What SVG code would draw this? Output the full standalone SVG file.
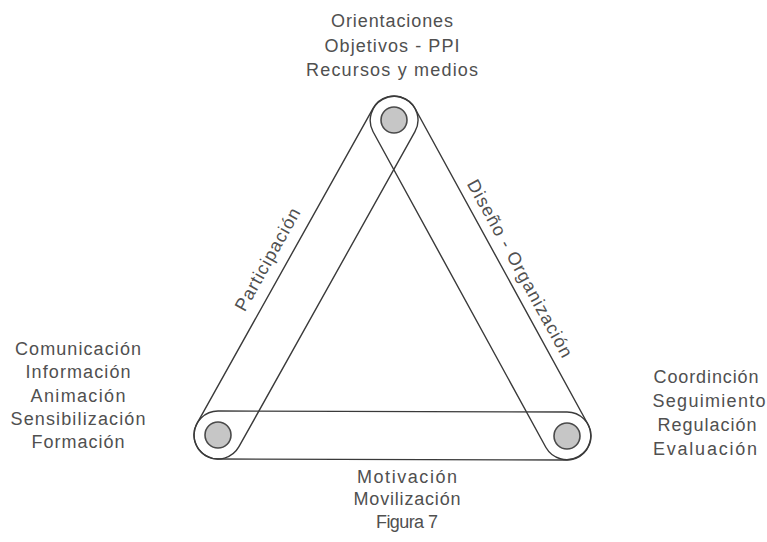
<svg xmlns="http://www.w3.org/2000/svg" width="767" height="542" viewBox="0 0 767 542">
  <defs>
    <style>
      .loop { fill: none; stroke: #3a3a3a; stroke-width: 1.4; stroke-linejoin: round; }
      .dot { fill: #c6c6c6; stroke: #4a4a4a; stroke-width: 1.6; }
      .lbl { font-family: "Liberation Sans", Arial, sans-serif; font-size: 18px; fill: #505050; text-anchor: middle; }
    </style>
  </defs>
  <rect width="767" height="542" fill="#ffffff"/>

  <g id="connectors">
    <path id="loop-participacion" class="loop" d="M414.95,131.71 L238.95,446.71 A24,24 0 0 1 197.05,423.29 L373.05,108.29 A24,24 0 0 1 414.95,131.71 Z"/>
    <path id="loop-diseno" class="loop" d="M415.05,108.48 L588.05,424.48 A24,24 0 0 1 545.95,447.52 L372.95,131.52 A24,24 0 0 1 415.05,108.48 Z"/>
    <path id="loop-motivacion" class="loop" d="M218.07,411 L567.07,412 A24,24 0 0 1 566.93,460 L217.93,459 A24,24 0 0 1 218.07,411 Z"/>
    <text class="lbl" transform="translate(272.9,262.4) rotate(-60.8)" textLength="115" lengthAdjust="spacing">Participación</text>
    <text class="lbl" transform="translate(514.6,271.4) rotate(61.3)" textLength="200" lengthAdjust="spacing">Diseño - Organización</text>
    <text class="lbl" x="407" y="483" textLength="100" lengthAdjust="spacing">Motivación</text>
    <text class="lbl" x="407" y="505" textLength="107" lengthAdjust="spacing">Movilización</text>
  </g>

  <g id="node-top">
    <circle class="dot" cx="394" cy="120" r="13"/>
    <text class="lbl" x="392" y="27" textLength="122" lengthAdjust="spacing">Orientaciones</text>
    <text class="lbl" x="392" y="52" textLength="135" lengthAdjust="spacing">Objetivos - PPI</text>
    <text class="lbl" x="392" y="76" textLength="172" lengthAdjust="spacing">Recursos y medios</text>
  </g>

  <g id="node-left">
    <circle class="dot" cx="218" cy="435" r="13"/>
    <text class="lbl" x="78" y="355" textLength="126" lengthAdjust="spacing">Comunicación</text>
    <text class="lbl" x="78" y="378" textLength="105" lengthAdjust="spacing">Información</text>
    <text class="lbl" x="78" y="402" textLength="95" lengthAdjust="spacing">Animación</text>
    <text class="lbl" x="78" y="425" textLength="135" lengthAdjust="spacing">Sensibilización</text>
    <text class="lbl" x="78" y="448" textLength="93" lengthAdjust="spacing">Formación</text>
  </g>

  <g id="node-right">
    <circle class="dot" cx="567" cy="436" r="13"/>
    <text class="lbl" x="706" y="383" textLength="105" lengthAdjust="spacing">Coordinción</text>
    <text class="lbl" x="709" y="407" textLength="113" lengthAdjust="spacing">Seguimiento</text>
    <text class="lbl" x="707" y="431" textLength="99" lengthAdjust="spacing">Regulación</text>
    <text class="lbl" x="705" y="455" textLength="104" lengthAdjust="spacing">Evaluación</text>
  </g>

  <g id="caption">
    <text class="lbl" x="407" y="528" textLength="62" lengthAdjust="spacing">Figura 7</text>
  </g>
</svg>
